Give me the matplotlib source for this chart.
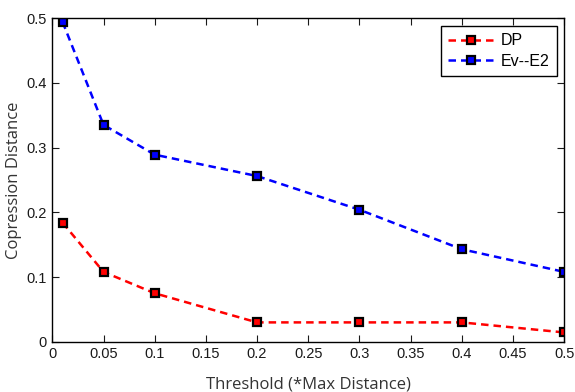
import numpy as np
import matplotlib.pyplot as plt

plt.rcParams['font.family'] = ['Liberation Sans', 'DejaVu Sans']

# data
threshold = [0.01, 0.05, 0.1, 0.2, 0.3, 0.4, 0.5]
dp = [0.184, 0.108, 0.075, 0.030, 0.030, 0.030, 0.0145]
ev_e2 = [0.494, 0.335, 0.289, 0.256, 0.204, 0.143, 0.108]

x_ticks = [0, 0.05, 0.1, 0.15, 0.2, 0.25, 0.3, 0.35, 0.4, 0.45, 0.5]
x_labels = ['0', '0.05', '0.1', '0.15', '0.2', '0.25', '0.3', '0.35', '0.4', '0.45', '0.5']
y_ticks = [0, 0.1, 0.2, 0.3, 0.4, 0.5]
y_labels = ['0', '0.1', '0.2', '0.3', '0.4', '0.5']

fig = plt.figure(figsize=(5.75, 3.92), dpi=100)
ax = fig.add_axes([0.091, 0.128, 0.890, 0.826])

ax.plot(threshold, dp, '--s', color='red', lw=1.8, dashes=(3, 2),
        markersize=6, markerfacecolor='red', markeredgecolor='black',
        markeredgewidth=1.6, label='DP')
ax.plot(threshold, ev_e2, '--s', color='blue', lw=1.8, dashes=(3, 2),
        markersize=6, markerfacecolor='blue', markeredgecolor='black',
        markeredgewidth=1.6, label='Ev--E2')

ax.set_xlim(0, 0.5)
ax.set_ylim(0, 0.5)
ax.set_xticks(x_ticks)
ax.set_xticklabels(x_labels)
ax.set_yticks(y_ticks)
ax.set_yticklabels(y_labels)
ax.tick_params(direction='in', top=True, right=True, length=5,
               labelsize=10.5, colors='#1a1a1a', pad=4)
for s in ax.spines.values():
    s.set_linewidth(1.0)

ax.set_xlabel('Threshold (*Max Distance)', fontsize=12, color='#333333',
              labelpad=11, family=['Open Sans', 'DejaVu Sans'])
ax.set_ylabel('Copression Distance', fontsize=12, color='#333333',
              labelpad=3, family=['Open Sans', 'DejaVu Sans'])

leg = ax.legend(loc='upper right', fontsize=11.5, fancybox=False,
                edgecolor='black', framealpha=1, handlelength=2.8,
                handletextpad=0.5, borderpad=0.45, labelspacing=0.35,
                borderaxespad=0, bbox_to_anchor=(0.986, 0.975))
leg.get_frame().set_linewidth(1.0)

plt.savefig('out.png', dpi=100)
plt.close()
